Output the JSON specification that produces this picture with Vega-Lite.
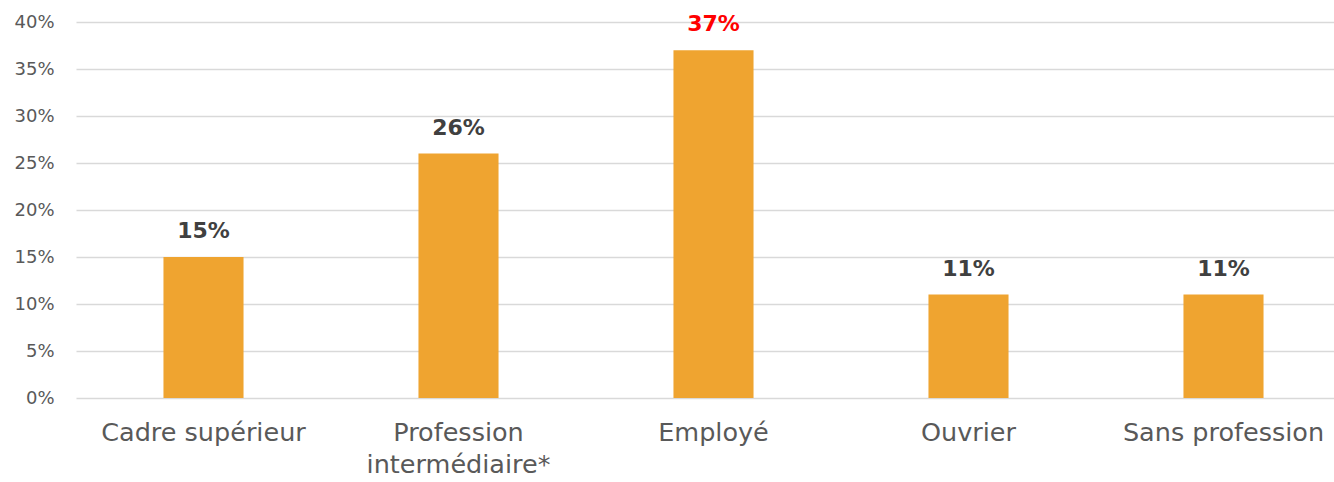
{
  "$schema": "https://vega.github.io/schema/vega-lite/v6.json",
  "width": 1258,
  "height": 376,
  "autosize": {"type": "none"},
  "padding": {"left": 76, "top": 22, "right": 0, "bottom": 84},
  "background": "white",
  "config": {
    "view": {"stroke": null},
    "font": "DejaVu Sans"
  },
  "data": {
    "values": [
      {"categorie": "Cadre supérieur", "part": 0.15, "highlight": "non"},
      {"categorie": "Profession|intermédiaire*", "part": 0.26, "highlight": "non"},
      {"categorie": "Employé", "part": 0.37, "highlight": "oui"},
      {"categorie": "Ouvrier", "part": 0.11, "highlight": "non"},
      {"categorie": "Sans profession", "part": 0.11, "highlight": "non"}
    ]
  },
  "encoding": {
    "x": {
      "field": "categorie",
      "type": "nominal",
      "sort": null,
      "scale": {"range": [0, 1275], "paddingInner": 0.686, "paddingOuter": 0.343},
      "axis": {
        "title": null,
        "labelAngle": 0,
        "labelExpr": "split(datum.label, '|')",
        "labelFont": "DejaVu Sans",
        "labelFontSize": 25.5,
        "labelColor": "#595959",
        "labelPadding": 22,
        "labelLineHeight": 32,
        "labelBaseline": "top",
        "labelLimit": 400,
        "labelOverlap": false,
        "ticks": false,
        "domain": false,
        "grid": false
      }
    }
  },
  "layer": [
    {
      "mark": {"type": "bar", "color": "#EFA430"},
      "encoding": {
        "y": {
          "field": "part",
          "type": "quantitative",
          "scale": {"domain": [0, 0.4], "nice": false},
          "axis": {
            "title": null,
            "format": ".0%",
            "values": [0, 0.05, 0.1, 0.15, 0.2, 0.25, 0.3, 0.35, 0.4],
            "labelFont": "DejaVu Sans",
            "labelFontSize": 18,
            "labelColor": "#595959",
            "labelPadding": 22,
            "ticks": false,
            "domain": false,
            "grid": true,
            "gridColor": "#D9D9D9",
            "gridWidth": 1.5
          }
        }
      }
    },
    {
      "mark": {"type": "text", "fontSize": 22, "fontWeight": "bold", "baseline": "alphabetic", "dy": -19, "font": "DejaVu Sans"},
      "encoding": {
        "y": {"field": "part", "type": "quantitative"},
        "text": {"field": "part", "type": "quantitative", "format": ".0%"},
        "color": {
          "field": "highlight",
          "type": "nominal",
          "scale": {"domain": ["non", "oui"], "range": ["#404040", "#FF0000"]},
          "legend": null
        }
      }
    }
  ]
}
